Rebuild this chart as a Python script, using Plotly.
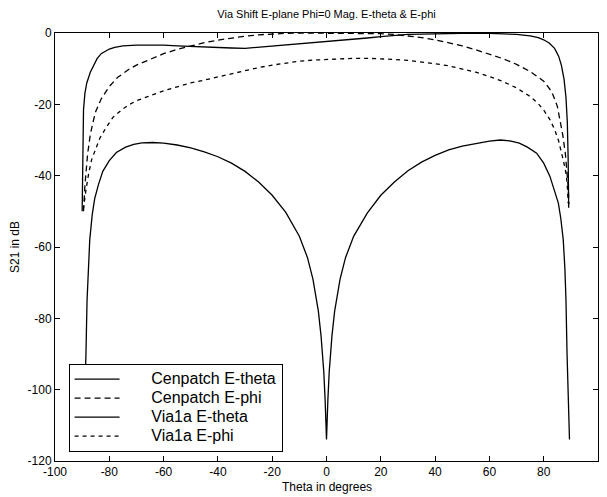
import plotly.graph_objects as go

# ---- data ----
cen_theta_x = [-90.0, -89.8, -89.5, -89.0, -88.3, -87.0, -86.0, -84.5, -83.0, -80.0, -78.0, -75.0,
               -70.0, -65.0, -60.0, -55.0, -50.0, -45.0, -40.0, -35.0, -30.0, -25.0, -20.0, -15.0,
               -10.0, -5.0, 0.0, 5.0, 10.0, 15.0, 20.0, 25.0, 30.0, 35.0, 40.0, 50.0, 60.0, 65.0,
               70.0, 75.0, 78.0, 80.0, 82.0, 84.0, 85.5, 86.5, 87.5, 88.2, 88.7, 89.0, 89.2]
cen_theta_y = [-50.0, -31.0, -21.5, -17.0, -14.0, -11.0, -9.4, -7.2, -5.8, -4.5, -4.0, -3.6,
               -3.4, -3.3, -3.4, -3.6, -3.8, -3.9, -4.1, -4.2, -4.3, -4.0, -3.7, -3.4,
               -3.1, -2.8, -2.5, -2.2, -1.8, -1.4, -1.0, -0.6, -0.4, -0.3, -0.2, -0.1, -0.1, -0.2,
               -0.4, -0.8, -1.3, -1.9, -2.8, -4.3, -6.5, -9.0, -13.0, -18.0, -25.0, -35.0, -49.0]

cen_phi_x = [-89.5, -89.0, -88.0, -87.0, -86.0, -85.0, -83.0, -80.0, -77.0, -73.0, -70.0, -65.0,
             -60.0, -55.0, -50.0, -45.0, -40.0, -35.0, -30.0, -25.0, -20.0, -15.0, -10.0, -5.0,
             0.0, 5.0, 10.0, 15.0, 20.0, 25.0, 30.0, 35.0, 40.0, 45.0, 50.0, 55.0, 60.0, 65.0,
             70.0, 75.0, 80.0, 83.0, 85.0, 86.0, 87.0, 88.0, 88.5, 89.0, 89.3]
cen_phi_y = [-50.0, -43.0, -34.0, -28.5, -25.0, -22.0, -18.5, -15.0, -12.5, -10.3, -9.0, -7.3,
             -5.8, -4.6, -3.6, -2.7, -2.0, -1.4, -0.9, -0.5, -0.25, -0.1, 0.0, 0.0,
             0.0, 0.0, -0.05, -0.1, -0.2, -0.4, -0.8, -1.3, -1.9, -2.7, -3.6, -4.7, -5.9, -7.2,
             -8.8, -10.8, -13.5, -16.5, -20.5, -24.0, -28.5, -34.0, -38.0, -43.0, -48.0]

via_theta_x = [-89.5, -89.0, -88.6, -88.2, -87.8, -87.2, -86.3, -85.4, -84.0, -82.4, -80.0, -77.4,
               -74.0, -71.0, -68.0, -64.0, -60.0, -55.0, -50.0, -45.0, -40.0, -35.0, -30.0, -25.0,
               -20.0, -15.0, -10.0, -7.0, -5.0, -3.0, -2.0, -1.0, -0.5, 0.0, 0.5, 1.0, 2.0, 3.0,
               5.0, 7.0, 10.0, 15.0, 20.0, 25.0, 30.0, 35.0, 40.0, 45.0, 50.0, 55.0, 60.0, 64.0,
               68.0, 71.0, 74.0, 77.4, 80.0, 82.3, 84.0, 85.4, 86.3, 87.2, 87.8, 88.2, 88.6, 89.0, 89.5]
via_theta_y = [-114.0, -103.0, -90.0, -75.0, -66.0, -58.0, -51.0, -46.5, -42.5, -38.8, -35.8, -33.5,
               -32.0, -31.2, -30.8, -30.7, -30.9, -31.4, -32.2, -33.3, -34.7, -36.5, -38.8, -41.8,
               -45.5, -50.3, -57.0, -63.0, -69.0, -78.0, -85.0, -95.0, -103.0, -114.0, -103.0, -95.0, -85.0, -78.0,
               -69.0, -63.0, -57.0, -50.5, -45.5, -41.8, -38.6, -36.2, -34.3, -32.8, -31.7, -30.9, -30.3, -30.0,
               -30.3, -30.9, -32.0, -33.7, -36.5, -40.2, -44.0, -47.7, -52.0, -58.0, -66.0, -74.8, -90.0, -103.0, -114.0]

via_phi_x = [-89.6, -89.0, -88.5, -87.5, -86.5, -85.0, -83.5, -81.0, -78.6, -75.0, -72.5, -70.0,
             -65.0, -60.0, -55.0, -50.0, -45.0, -40.0, -35.0, -30.0, -25.0, -20.0, -15.0, -10.0,
             -5.0, 0.0, 5.0, 10.0, 15.0, 20.0, 25.0, 30.0, 35.0, 40.0, 45.0, 50.0, 55.0, 60.0,
             65.0, 70.0, 75.0, 78.0, 80.0, 82.3, 84.0, 85.4, 86.5, 87.2, 88.0, 88.4, 88.8, 89.0]
via_phi_y = [-49.5, -46.0, -43.5, -39.0, -35.5, -32.5, -29.5, -26.3, -23.6, -21.3, -20.0, -19.0,
             -17.5, -16.2, -15.1, -14.0, -13.2, -12.3, -11.4, -10.5, -9.7, -9.0, -8.4, -7.9,
             -7.6, -7.4, -7.2, -7.1, -7.1, -7.2, -7.4, -7.7, -8.1, -8.6, -9.2, -10.0, -11.0, -12.2,
             -13.6, -15.4, -17.8, -19.8, -21.6, -24.3, -27.0, -30.0, -33.0, -35.6, -38.5, -40.2, -44.0, -47.7]

series_names = ["Cenpatch E-theta", "Cenpatch E-phi", "Via1a E-theta", "Via1a E-phi"]
x_ticks = [-100, -80, -60, -40, -20, 0, 20, 40, 60, 80, 100]
y_ticks = [0, -20, -40, -60, -80, -100, -120]

title_text = "Via Shift E-plane Phi=0 Mag. E-theta & E-phi"
x_title = "Theta in degrees"
y_title = "S21 in dB"

FONT = "Liberation Sans, Arial, Helvetica, sans-serif"
PAD = "\u00a0" * 6  # gap between legend sample and label

# The page body has an 8px default margin, so the figure is sized to fill
# the 607x497 window from (8, 8).
W, H = 599, 489

fig = go.Figure()
series = [
    (cen_theta_x, cen_theta_y, "solid"),
    (cen_phi_x, cen_phi_y, "6px,4px"),
    (via_theta_x, via_theta_y, "solid"),
    (via_phi_x, via_phi_y, "4px,4px"),
]
for name, (xs, ys, dash) in zip(series_names, series):
    label = "<span style='font-size:16px'>" + PAD + name + "</span>"
    fig.add_trace(go.Scatter(x=xs, y=ys, mode="lines", name=label,
                             line=dict(color="black", width=1.3, dash=dash)))

axis_common = dict(showgrid=False, zeroline=False, showline=True, linecolor="black",
                   linewidth=1, mirror="ticks", ticks="inside", ticklen=5,
                   tickcolor="black", tickwidth=1,
                   tickfont=dict(family=FONT, size=12, color="black"))

fig.update_xaxes(range=[-100, 100], tickvals=x_ticks, ticktext=[str(v) for v in x_ticks],
                 **axis_common)
fig.update_yaxes(range=[-120, 0], tickvals=y_ticks, ticktext=[str(v) for v in y_ticks],
                 title=dict(text=y_title, font=dict(family=FONT, size=12, color="black")),
                 **axis_common)

fig.add_annotation(text=x_title, xref="paper", yref="paper", x=0.5, y=-0.06,
                   xanchor="center", yanchor="middle", showarrow=False,
                   font=dict(family=FONT, size=12, color="black"))

fig.update_layout(
    width=W, height=H,
    margin=dict(l=47, r=9, t=25, b=36, autoexpand=False),
    paper_bgcolor="white", plot_bgcolor="white",
    title=dict(text=title_text, xref="paper", x=0.5, xanchor="center",
               y=1 - 6.0 / H, yanchor="middle",
               font=dict(family=FONT, size=11, color="black")),
    showlegend=True,
    legend=dict(x=0.025, y=0.022, xanchor="left", yanchor="bottom",
                bgcolor="white", bordercolor="black", borderwidth=1,
                font=dict(family=FONT, size=12, color="black"),
                itemwidth=45, tracegroupgap=0),
)

fig.write_html("out.html")
